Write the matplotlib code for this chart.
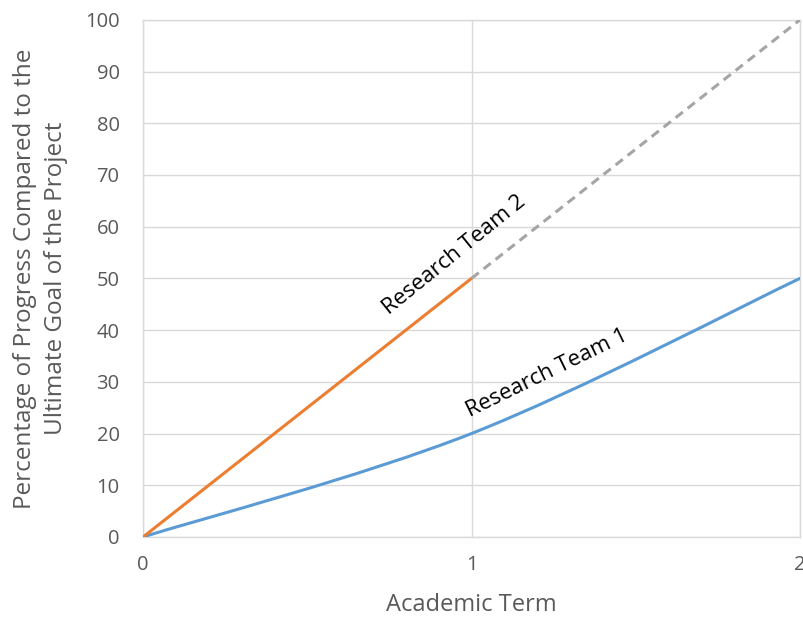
import matplotlib
matplotlib.use("Agg")
import matplotlib.pyplot as plt
from matplotlib.path import Path
from matplotlib.patches import PathPatch

plt.rcParams['font.family'] = ['Open Sans', 'DejaVu Sans']

# Data
terms = [0, 1, 2]
team1 = [0, 20, 50]
team2_x = [0, 1]
team2 = [0, 50]
proj_x = [1, 2]
proj = [50, 100]
x_ticks = [0, 1, 2]
y_ticks = list(range(0, 101, 10))

fig = plt.figure(figsize=(8.04, 6.2), dpi=100)
ax = fig.add_axes([0.178, 0.134, 0.817, 0.834])

# Excel-like smoothed curve for team 1 (Catmull-Rom style Bezier)
pts = list(zip(terms, team1))
verts = [pts[0]]
codes = [Path.MOVETO]
n = len(pts)
for i in range(n - 1):
    p0 = pts[i - 1] if i > 0 else pts[i]
    p1 = pts[i]
    p2 = pts[i + 1]
    p3 = pts[i + 2] if i + 2 < n else pts[i + 1]
    c1 = (p1[0] + (p2[0] - p0[0]) / 6, p1[1] + (p2[1] - p0[1]) / 6)
    c2 = (p2[0] - (p3[0] - p1[0]) / 6, p2[1] - (p3[1] - p1[1]) / 6)
    verts += [c1, c2, p2]
    codes += [Path.CURVE4] * 3
ax.add_patch(PathPatch(Path(verts, codes), facecolor='none', edgecolor='#5b9bd5',
                       lw=2.2, capstyle='round', zorder=3))

ax.plot(team2_x, team2, color='#ed7d31', lw=2.2, zorder=3, solid_capstyle='round')
ax.plot(proj_x, proj, color='#a5a5a5', lw=2.2, ls=(0, (3, 2)), zorder=3)

ax.set_xlim(0, 2)
ax.set_ylim(0, 100)
ax.set_xticks(x_ticks)
ax.set_yticks(y_ticks)
ax.grid(True, color='#d9d9d9', lw=1)
ax.set_axisbelow(True)
ax.tick_params(length=0, labelsize=14.5, colors='#595959')
ax.tick_params(axis='y', pad=17)
ax.tick_params(axis='x', pad=13)
for s in ax.spines.values():
    s.set_color('#d9d9d9')
    s.set_linewidth(1)

ax.set_xlabel('Academic Term', fontsize=17, color='#595959', labelpad=13)
ax.set_ylabel('Percentage of Progress Compared to the\nUltimate Goal of the Project',
              fontsize=17.5, color='#595959', labelpad=12, linespacing=1.4)

ax.text(0.947, 54.6, 'Research Team 2', rotation=39, fontsize=16, color='black',
        ha='center', va='center', rotation_mode='anchor')
ax.text(1.23, 31.6, 'Research Team 1', rotation=26, fontsize=16, color='black',
        ha='center', va='center', rotation_mode='anchor')

fig.savefig('out.png', dpi=100)
